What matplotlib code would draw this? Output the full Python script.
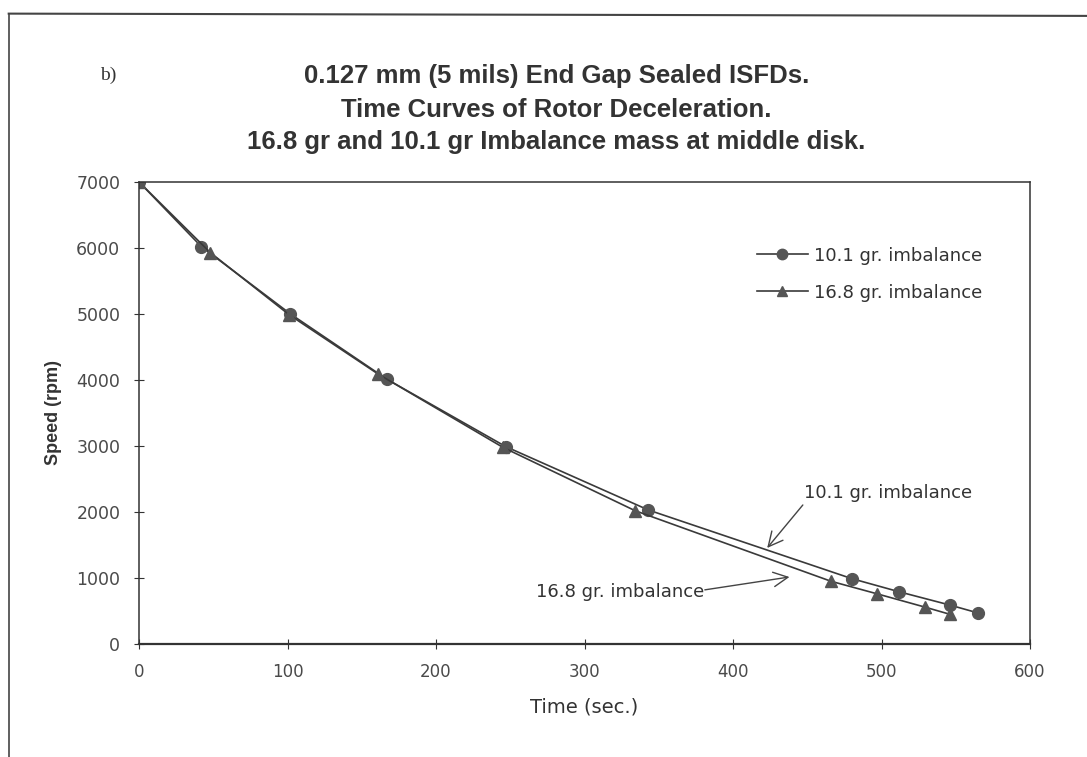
import numpy as np
import matplotlib.pyplot as plt
from matplotlib.lines import Line2D

plt.rcParams['font.family'] = ['Liberation Sans', 'DejaVu Sans']

# 10.1 gr imbalance (circles)
t_101 = [0, 42, 102, 167, 247, 343, 480, 512, 546, 565]
rpm_101 = [7000, 6020, 5000, 4010, 2990, 2030, 990, 790, 590, 470]
# 16.8 gr imbalance (triangles)
t_168 = [0, 48, 101, 161, 245, 334, 466, 497, 529, 546]
rpm_168 = [7000, 5930, 4990, 4090, 2980, 2020, 950, 760, 560, 450]

xticks = [0, 100, 200, 300, 400, 500, 600]
yticks = [0, 1000, 2000, 3000, 4000, 5000, 6000, 7000]

fig = plt.figure(figsize=(10.87, 7.57), dpi=100)
ax = fig.add_axes([0.1279, 0.1493, 0.8197, 0.6103])

lc = '#3a3a3a'
mc = '#555555'
ax.plot(t_101, rpm_101, '-', color=lc, lw=1.2, marker='o', ms=8.5,
        mfc=mc, mec=mc, label='10.1 gr. imbalance')
ax.plot(t_168, rpm_168, '-', color=lc, lw=1.2, marker='^', ms=8.5,
        mfc=mc, mec=mc, label='16.8 gr. imbalance')

ax.set_xlim(0, 600)
ax.set_ylim(0, 7000)
ax.set_xticks(xticks)
ax.set_yticks(yticks)
ax.tick_params(direction='inout', length=7, width=0.8, colors='#333333',
               labelcolor='#4a4a4a', pad=10)
for lab in ax.get_xticklabels():
    lab.set_family('DejaVu Sans')
    lab.set_fontsize(12)
for lab in ax.get_yticklabels():
    lab.set_family('DejaVu Sans')
    lab.set_fontsize(12.5)
for s in ax.spines.values():
    s.set_color('#333333')
    s.set_linewidth(1.1)
ax.spines['bottom'].set_linewidth(1.6)

ax.set_xlabel('Time (sec.)', fontsize=14, family='DejaVu Sans',
              color='#333333', labelpad=12)
ax.set_ylabel('Speed (rpm)', fontsize=13, fontweight='bold',
              color='#333333', labelpad=10)

handles = [Line2D([], [], color=lc, lw=1.2, marker='o', ms=7.5, mfc=mc, mec=mc),
           Line2D([], [], color=lc, lw=1.2, marker='^', ms=7.5, mfc=mc, mec=mc)]
leg = fig.legend(handles, ['10.1 gr. imbalance', '16.8 gr. imbalance'],
                 loc='upper left', bbox_to_anchor=(0.6964, 0.674), frameon=False,
                 prop={'family': 'DejaVu Sans', 'size': 13},
                 handlelength=2.8, handletextpad=0.35, borderpad=0,
                 borderaxespad=0, labelspacing=1.05, labelcolor='#333333')

arrow = dict(arrowstyle='->', color='#444444', lw=1, shrinkA=0, shrinkB=0,
             mutation_scale=26)
ax.text(448, 2290, '10.1 gr. imbalance', fontsize=13, family='DejaVu Sans',
        color='#333333', va='center', ha='left')
ax.annotate('', xy=(423, 1455), xytext=(447, 2106), arrowprops=arrow)
ax.text(267, 790, '16.8 gr. imbalance', fontsize=13, family='DejaVu Sans',
        color='#333333', va='center', ha='left')
ax.annotate('', xy=(438, 1015), xytext=(381, 820), arrowprops=arrow)

fig.text(0.092, 0.9, 'b)', fontsize=14, family='Liberation Serif',
         color='#333333', ha='left', va='center')
fig.text(0.512, 0.9, '0.127 mm (5 mils) End Gap Sealed ISFDs.', fontsize=18.5,
         fontweight='bold', color='#333333', ha='center', va='center')
fig.text(0.512, 0.855, 'Time Curves of Rotor Deceleration.', fontsize=18.5,
         fontweight='bold', color='#333333', ha='center', va='center')
fig.text(0.512, 0.813, '16.8 gr and 10.1 gr Imbalance mass at middle disk.',
         fontsize=18.5, fontweight='bold', color='#333333', ha='center',
         va='center')

# outer frame of the scanned page
fig.add_artist(Line2D([0.008, 1.0], [0.982, 0.979], color='#444444', lw=1.5))
fig.add_artist(Line2D([0.008, 0.008], [0.982, 0.0], color='#444444', lw=1.2))

fig.savefig('out.png', dpi=100, facecolor='white')
